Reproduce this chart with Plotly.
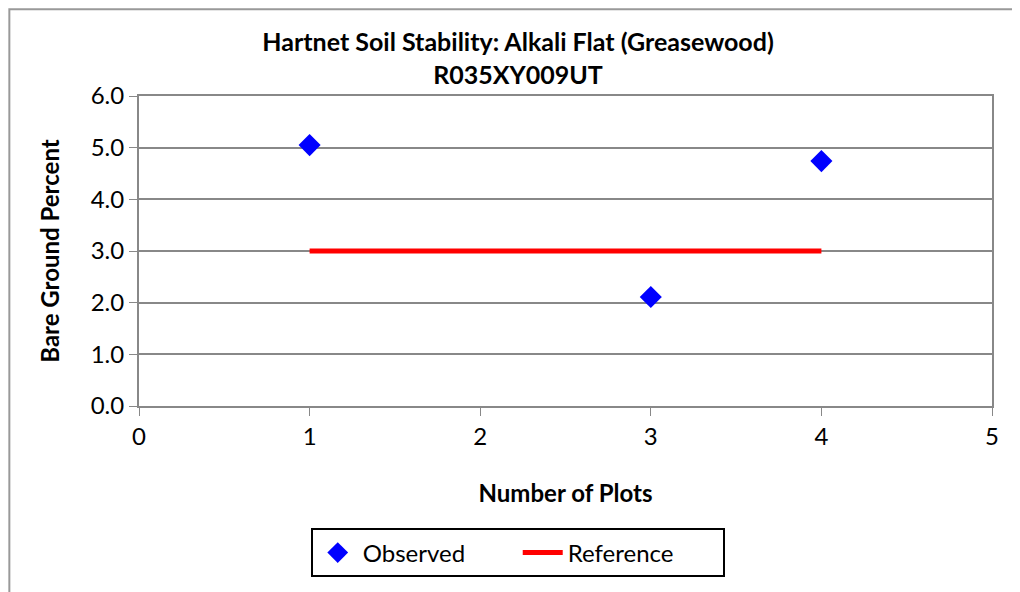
import plotly.graph_objects as go

# observed data points
plot_numbers = [1, 3, 4]
bare_ground = [5.05, 2.11, 4.74]

# reference line
ref_x = [1, 4]
ref_y = [3.0, 3.0]

x_ticks = [0, 1, 2, 3, 4, 5]
y_ticks = [0, 1, 2, 3, 4, 5, 6]

FONT = "Lato"

fig = go.Figure()

fig.add_trace(go.Scatter(
    x=ref_x, y=ref_y,
    mode='lines',
    name='Reference',
    line=dict(color='#ff0000', width=5),
))

fig.add_trace(go.Scatter(
    x=plot_numbers, y=bare_ground,
    mode='markers',
    name='Observed',
    marker=dict(symbol='diamond', size=17, color='#0000ff'),
))

# page body has an 8px margin, so the figure is sized/shifted to compensate
fig.update_layout(
    width=1012, height=584,
    paper_bgcolor='white',
    plot_bgcolor='white',
    font=dict(family=FONT, color='black'),
    margin=dict(l=131, r=28, t=88, b=186),
    title=dict(
        text="<b>Hartnet Soil Stability: Alkali Flat (Greasewood)<br>R035XY009UT</b>",
        x=0.504, xanchor='center', y=0.926, yanchor='middle',
        font=dict(size=25, family=FONT),
    ),
    showlegend=True,
    legend=dict(
        orientation='h',
        traceorder='reversed',
        x=0.444, xanchor='center',
        y=-0.474, yanchor='middle',
        bordercolor='black', borderwidth=2,
        font=dict(size=24, family=FONT),
        entrywidth=150,
        itemwidth=40,
    ),
    xaxis=dict(
        range=[0, 5],
        tickvals=x_ticks,
        showgrid=False,
        zeroline=False,
        showline=True, linecolor='#888888', linewidth=2, mirror=True,
        ticks='outside', ticklen=8, tickcolor='#888888',
        tickfont=dict(size=24),
        title=dict(text='<b>Number of Plots</b>', font=dict(size=24), standoff=36),
    ),
    yaxis=dict(
        range=[0, 6],
        tickvals=y_ticks,
        tickformat='.1f',
        showgrid=True, gridcolor='#888888', gridwidth=2,
        zeroline=False,
        showline=True, linecolor='#888888', linewidth=2, mirror=True,
        ticks='outside', ticklen=8, tickcolor='#888888',
        tickfont=dict(size=24),
        title=dict(text='<b>Bare Ground Percent</b>', font=dict(size=24), standoff=24),
    ),
)

# outer chart border
fig.add_shape(type='rect', xref='paper', yref='paper',
              x0=-0.152, x1=1.06, y0=-0.65, y1=1.28,
              line=dict(color='#999999', width=2), layer='below')

fig.write_html("out.html")
